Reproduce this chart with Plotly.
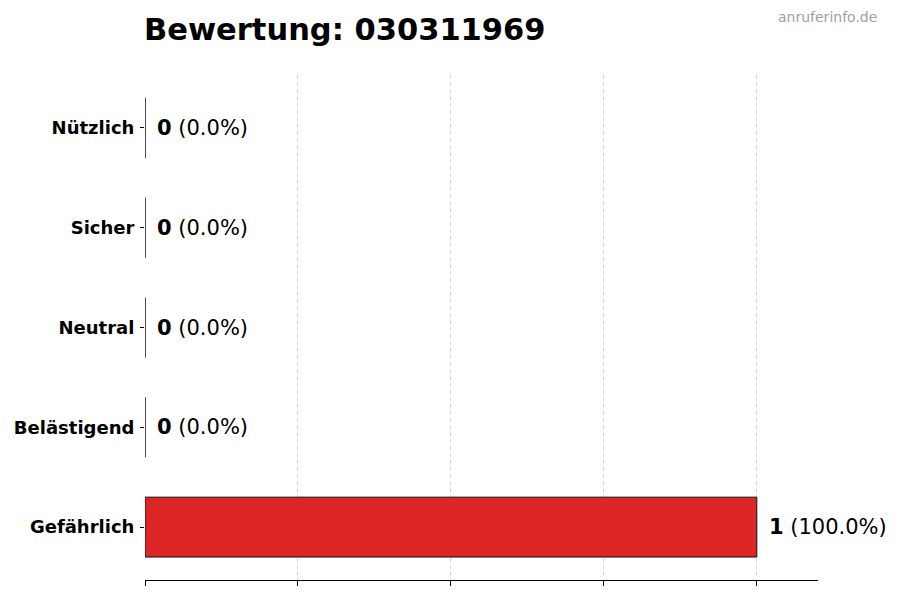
import plotly.graph_objects as go

NUMBER = "030311969"
CATEGORIES = ["Gefährlich", "Belästigend", "Neutral", "Sicher", "Nützlich"]
COUNTS = [1, 0, 0, 0, 0]
BAR_COLORS = ["#dc2626", "#f97316", "#9ca3af", "#22c55e", "#3b82f6"]
X_TICKS = [0, 0.25, 0.5, 0.75, 1.0]

total = sum(COUNTS)
pcts = [100.0 * c / total if total else 0.0 for c in COUNTS]

# page body has an 8px margin, so the figure is sized/offset to compensate
W, H = 892, 592

fig = go.Figure()
fig.add_trace(go.Bar(
    x=COUNTS, y=CATEGORIES, orientation="h", width=0.6,
    marker=dict(color=BAR_COLORS, line=dict(color="#111111", width=1)),
    hoverinfo="skip",
))

# value labels next to each bar
for cat, c, p in zip(CATEGORIES, COUNTS, pcts):
    fig.add_annotation(
        x=c, y=cat, text=f"<b>{c}</b> ({p:.1f}%)",
        showarrow=False, xanchor="left", xshift=10,
        font=dict(family="DejaVu Sans", size=21, color="#000000"),
    )

fig.add_annotation(
    x=1, y=1, xref="paper", yref="paper", xanchor="right", yanchor="middle",
    text="anruferinfo.de", showarrow=False, xshift=61, yshift=58,
    font=dict(family="DejaVu Sans", size=14, color="#a0a0a0"),
)

fig.update_layout(
    width=W, height=H,
    margin=dict(l=137, r=82, t=67, b=20),
    paper_bgcolor="white", plot_bgcolor="white",
    showlegend=False,
    title=dict(
        text=f"<b>Bewertung: {NUMBER}</b>", x=136 / W, xanchor="left",
        y=1 - 21 / H, yanchor="middle",
        font=dict(family="DejaVu Sans", size=30.5, color="#000000"),
    ),
    font=dict(family="DejaVu Sans", color="#000000"),
)
fig.update_xaxes(
    range=[0, 1.1], tickvals=X_TICKS, showticklabels=False,
    ticks="outside", ticklen=5, tickcolor="#000000",
    showline=True, linecolor="#000000", linewidth=1,
    showgrid=True, gridcolor="#d6d6d6", griddash="4px,3px", gridwidth=0.8,
    zeroline=False, layer="above traces", automargin=False,
)
fig.update_yaxes(
    range=[-0.53, 4.53], categoryorder="array", categoryarray=CATEGORIES,
    ticks="outside", ticklen=4, tickcolor="#000000", ticklabelstandoff=2,
    tickfont=dict(family="DejaVu Sans", size=18, color="#000000", weight="bold"),
    showline=False, showgrid=False, zeroline=False, automargin=False,
)

fig.write_html("out.html")
